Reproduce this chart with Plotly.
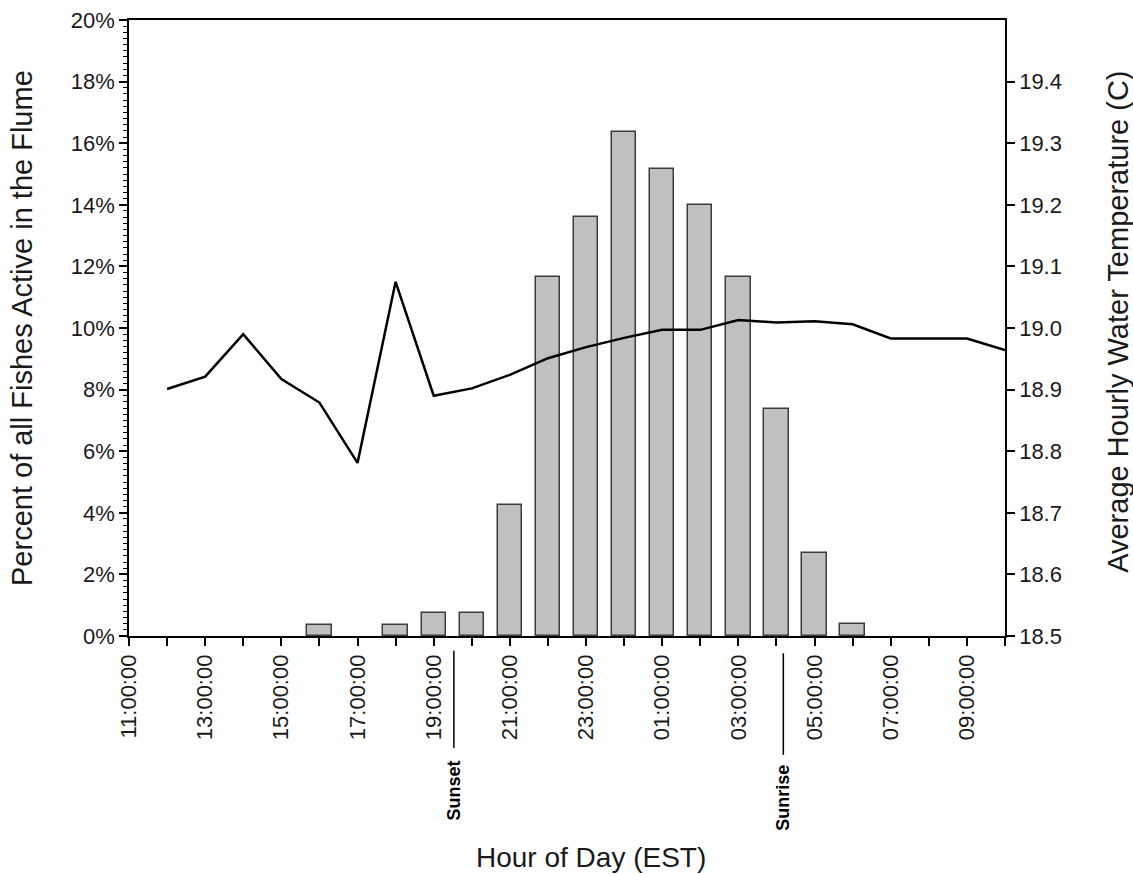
import plotly.graph_objects as go

# ---- data ----
bar_hours = [16, 18, 19, 20, 21, 22, 23, 0, 1, 2, 3, 4, 5, 6]
pct_active = [0.37, 0.37, 0.74, 0.74, 4.24, 11.67, 13.6, 16.37, 15.17, 14.0, 11.67, 7.38, 2.68, 0.38]

temp_hours = [12, 13, 14, 15, 16, 17, 18, 19, 20, 21, 22, 23, 0, 1, 2, 3, 4, 5, 6, 7, 8, 9, 10]
water_temp = [18.901, 18.921, 18.990, 18.917, 18.879, 18.781, 19.075, 18.890, 18.902, 18.924,
              18.951, 18.969, 18.984, 18.997, 18.997, 19.013, 19.009, 19.011, 19.006, 18.983,
              18.983, 18.983, 18.964]

axis_hours = [11, 12, 13, 14, 15, 16, 17, 18, 19, 20, 21, 22, 23, 0, 1, 2, 3, 4, 5, 6, 7, 8, 9, 10]
pct_ticks = [0, 2, 4, 6, 8, 10, 12, 14, 16, 18, 20]
temp_ticks = [18.5, 18.6, 18.7, 18.8, 18.9, 19.0, 19.1, 19.2, 19.3, 19.4]
sunset_hour = 19.53
sunrise_hour = 4.18

START = 11


def tl(h):
    """map clock hour onto a continuous timeline starting at 11:00"""
    return h + 24 if h < START else h


FONT = "Liberation Sans, Arial, sans-serif"
TXT = "#1a1a1a"
TICK = 22
TITLE = 29

fig = go.Figure()
fig.add_trace(go.Bar(
    x=[tl(h) for h in bar_hours], y=pct_active, width=0.64,
    marker=dict(color="#c0c0c0", line=dict(color="#3c3c3c", width=1.5)),
    yaxis="y", showlegend=False))
fig.add_trace(go.Scatter(
    x=[tl(h) for h in temp_hours], y=water_temp, mode="lines",
    line=dict(color="black", width=2.5), yaxis="y2", showlegend=False))

tickvals = [tl(h) for h in axis_hours]
ticktext = [("%02d:00:00" % h) if i % 2 == 0 else "" for i, h in enumerate(axis_hours)]

fig.update_layout(
    width=1133, height=874,
    margin=dict(l=129, r=128, t=20, b=238, autoexpand=False),
    paper_bgcolor="white", plot_bgcolor="white",
    font=dict(family=FONT, size=TICK, color=TXT),
    bargap=0,
    xaxis=dict(range=[11, 34], tickvals=tickvals, ticktext=ticktext, tickangle=-90,
               ticks="outside", ticklen=8, tickwidth=1.5, tickcolor="black",
               showline=True, linecolor="black", linewidth=1.5, mirror=True,
               showgrid=False, zeroline=False, tickfont=dict(size=TICK, color=TXT)),
    yaxis=dict(range=[0, 20], tickvals=pct_ticks, ticktext=["%d%%" % v for v in pct_ticks],
               ticks="outside", ticklen=8, tickwidth=1.5, tickcolor="black",
               minor=dict(dtick=0.2, ticks="outside", ticklen=4, tickwidth=1, tickcolor="black"),
               showline=True, linecolor="black", linewidth=1.5,
               showgrid=False, zeroline=False, tickfont=dict(size=TICK, color=TXT)),
    yaxis2=dict(range=[18.5, 19.5], overlaying="y", side="right",
                tickvals=temp_ticks, ticktext=["%.1f" % v for v in temp_ticks],
                ticks="outside", ticklen=8, tickwidth=1.5, tickcolor="black",
                showline=True, linecolor="black", linewidth=1.5,
                showgrid=False, zeroline=False, tickfont=dict(size=TICK, color=TXT)),
)

# axis titles
fig.add_annotation(text="Percent of all Fishes Active in the Flume", xref="paper", yref="paper",
                   x=0, y=0.5, xshift=-107, textangle=-90, showarrow=False,
                   xanchor="center", yanchor="middle", font=dict(size=TITLE, color=TXT))
fig.add_annotation(text="Average Hourly Water Temperature (C)", xref="paper", yref="paper",
                   x=1, y=0.51, xshift=113, textangle=-90, showarrow=False,
                   xanchor="center", yanchor="middle", font=dict(size=TITLE, color=TXT))
fig.add_annotation(text="Hour of Day (EST)", xref="paper", yref="paper",
                   x=0.527, y=-0.36, showarrow=False,
                   xanchor="center", yanchor="middle", font=dict(size=TITLE - 1, color=TXT))

# sunset / sunrise markers
for h, label, y0, y1, ty in [(sunset_hour, "Sunset", -0.024, -0.182, -0.251),
                             (tl(sunrise_hour), "Sunrise", -0.028, -0.193, -0.262)]:
    fig.add_shape(type="line", xref="x", yref="paper", x0=h, x1=h, y0=y0, y1=y1,
                  line=dict(color="black", width=1.5))
    fig.add_annotation(text="<b>%s</b>" % label, xref="x", yref="paper", x=h, y=ty,
                       textangle=-90, showarrow=False, xanchor="center", yanchor="middle",
                       font=dict(size=18, color="black"))

fig.write_html("out.html", config={"displayModeBar": False},
               post_script="document.body.style.margin='0';")
